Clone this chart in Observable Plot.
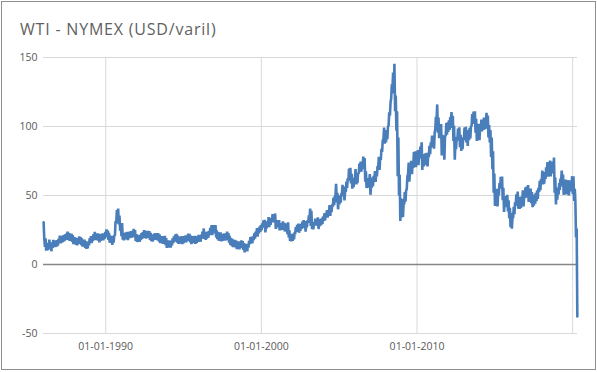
<!DOCTYPE html>
<html><head><meta charset="utf-8">
<script src="https://cdn.jsdelivr.net/npm/d3@7"></script>
<script src="https://cdn.jsdelivr.net/npm/@observablehq/plot@0.6"></script>
<style>
html,body{margin:0;padding:0;background:#fff;}
#chart{position:relative;width:597px;height:372px;overflow:hidden;font-family:"Open Sans",sans-serif;}
#frame{position:absolute;left:1px;top:1px;width:593px;height:367px;border:1px solid #8e8e8e;}
#title{position:absolute;left:20px;top:21px;font-size:16px;line-height:16px;color:#5f5f5f;letter-spacing:0.8px;white-space:nowrap;}
#plot{position:absolute;left:0;top:0;}
</style></head>
<body>
<div id="chart"><div id="frame"></div><div id="title">WTI - NYMEX (USD/varil)</div><div id="plot"></div></div>
<script>
// WTI prices: two readings per month (around the 5th and the 20th)
const firstYear = 1986;
const prices1980s = [
  30.5,18.8, 12.8,19.0, 10.0,15.4, 10.2,15.6, 12.8,18.0, 11.0,16.0, 9.6,13.8, 12.0,17.8, 12.5,17.4, 12.6,17.2, 12.9,17.7, 13.6,18.6,
  16.2,21.0, 15.3,20.2, 15.9,20.7, 16.2,21.2, 17.0,21.9, 17.6,22.4, 18.9,23.8, 17.8,22.9, 17.1,22.0, 17.3,22.4, 16.4,21.3, 14.8,19.8,
  14.7,19.6, 14.3,19.2, 13.8,18.7, 15.3,20.3, 15.0,19.8, 14.1,19.0, 13.0,18.0, 13.1,18.0, 12.0,17.0, 11.3,16.2, 11.7,16.6, 13.8,18.9,
  15.6,20.5, 15.5,20.4, 17.0,22.0, 18.6,23.6, 17.6,22.6, 17.6,22.5, 17.3,22.3, 16.1,21.0, 17.1,22.1, 17.6,22.6, 17.4,22.3, 18.6,23.7
];
const prices1990s = [
  20.3,25.4, 19.6,24.6, 17.9,22.9, 15.9,20.9, 15.7,20.7, 14.2,19.2, 15.9,21.0, 21.0,31.5, 30.0,39.5, 31.0,40.5, 29.0,35.5, 24.5,30.0,
  20.5,30.0, 17.9,23.0, 17.4,22.4, 18.3,23.3, 18.7,23.7, 17.7,22.7, 18.9,23.9, 19.2,24.2, 19.4,24.4, 20.7,25.8, 19.9,25.0, 17.0,22.0,
  16.3,21.3, 16.5,21.5, 16.4,21.4, 17.7,22.8, 18.5,23.5, 19.9,24.9, 19.3,24.3, 18.8,23.9, 19.4,24.4, 19.2,24.2, 17.8,22.9, 16.9,21.9,
  16.5,21.5, 17.6,22.6, 17.8,22.8, 17.8,22.8, 17.4,22.5, 16.6,21.6, 15.4,20.4, 15.5,20.5, 15.0,20.0, 15.7,20.7, 14.1,19.1, 12.0,17.0,
  12.5,17.5, 12.3,17.3, 12.2,17.2, 13.9,18.9, 15.4,20.4, 16.6,21.6, 17.2,22.2, 15.9,20.9, 15.0,20.0, 15.2,20.2, 15.6,20.6, 14.7,19.7,
  15.5,20.5, 16.1,21.1, 16.0,21.0, 17.4,22.4, 17.2,22.2, 16.0,21.0, 14.8,19.8, 15.5,20.5, 15.7,20.7, 14.9,19.9, 15.5,20.5, 16.5,21.5,
  16.4,21.4, 16.6,21.6, 18.8,23.9, 20.9,26.1, 18.6,23.7, 17.9,22.9, 18.8,23.8, 19.4,24.4, 21.4,26.5, 22.3,28.6, 21.2,26.2, 22.7,28.6,
  22.6,28.5, 19.6,24.7, 18.4,23.5, 17.2,22.2, 18.3,23.3, 16.7,21.8, 17.1,22.2, 17.4,22.5, 17.3,22.3, 18.8,23.8, 17.7,22.7, 15.8,20.8,
  14.2,19.2, 13.5,18.6, 12.6,17.6, 12.8,17.9, 12.4,17.4, 11.2,16.2, 11.7,16.7, 11.0,16.0, 12.5,17.5, 11.9,17.0, 10.5,15.5, 8.8,13.9,
  10.0,15.0, 9.5,14.5, 12.2,17.2, 14.8,19.8, 15.2,20.2, 15.4,20.4, 17.6,22.6, 18.8,23.8, 21.3,26.3, 20.2,25.2, 22.5,27.5, 23.6,28.6
];
const prices2000s = [
  24.7,29.8, 26.8,31.9, 27.2,32.4, 23.2,28.3, 26.2,31.3, 29.2,34.4, 27.1,32.3, 28.7,33.8, 31.3,36.5, 30.5,35.7, 31.8,37.0, 25.8,31.0,
  27.0,32.2, 27.0,32.2, 24.7,29.8, 24.9,30.0, 26.0,31.2, 25.0,30.2, 23.9,29.0, 24.8,29.9, 22.0,30.5, 19.6,24.7, 17.1,22.2, 16.8,21.9,
  17.2,22.3, 18.2,23.3, 22.0,27.1, 23.6,28.8, 24.5,29.6, 23.0,28.1, 24.4,29.5, 25.8,31.0, 27.1,32.2, 26.3,31.4, 23.8,28.9, 26.9,32.0,
  30.3,35.6, 33.2,40.5, 28.0,39.0, 25.6,30.8, 25.5,30.7, 28.1,33.2, 28.2,33.3, 29.0,34.2, 25.7,30.9, 27.8,32.9, 28.5,33.7, 29.5,34.8,
  31.6,37.0, 32.0,37.4, 34.0,39.5, 34.0,39.5, 37.5,43.0, 35.3,40.8, 38.0,43.6, 42.0,48.5, 43.0,49.5, 49.5,58.5, 45.0,52.0, 40.0,46.5,
  43.5,50.2, 44.8,51.5, 50.8,57.8, 49.5,56.5, 46.5,53.2, 52.8,60.0, 55.5,62.5, 61.0,69.5, 62.0,70.0, 58.8,65.8, 55.0,61.7, 56.0,62.8,
  62.0,69.2, 58.0,65.2, 59.0,66.3, 65.8,73.2, 67.0,74.6, 67.3,74.6, 70.8,78.2, 69.0,77.2, 60.0,67.6, 55.4,62.4, 55.6,62.6, 58.4,65.5,
  50.5,58.5, 55.6,63.0, 56.8,64.2, 60.3,67.7, 59.8,67.2, 63.8,71.3, 70.3,78.0, 68.6,76.2, 76.0,83.8, 81.5,90.2, 90.5,99.2, 87.5,96.0,
  88.5,97.5, 90.8,100.0, 100.8,110.2, 107.8,117.5, 120.5,130.5, 128.8,139.0, 124.0,145.5, 111.0,122.5, 97.0,111.0, 64.0,92.0, 50.0,65.0, 31.5,48.0,
  34.0,47.5, 34.5,44.0, 43.5,52.5, 45.5,53.8, 54.5,63.8, 65.5,73.8, 60.0,68.3, 67.0,75.2, 65.5,73.5, 70.0,81.5, 74.0,82.0, 70.5,78.5
];
const prices2010s = [
  74.0,83.0, 72.0,80.8, 77.0,85.5, 80.0,88.5, 68.5,80.0, 71.0,79.6, 72.0,80.6, 72.3,81.0, 71.0,79.5, 77.8,86.0, 80.0,88.5, 85.0,93.5,
  84.8,93.5, 84.0,96.0, 97.5,107.0, 105.0,116.0, 95.5,106.5, 91.5,101.5, 93.0,101.8, 79.0,94.0, 80.5,90.5, 76.0,93.5, 93.0,102.5, 94.0,103.0,
  96.0,104.5, 97.5,106.8, 101.5,110.5, 99.0,107.8, 89.5,100.5, 76.0,88.0, 83.5,92.5, 89.8,98.5, 90.0,99.5, 85.0,94.0, 82.3,90.8, 83.5,92.2,
  90.3,99.2, 90.8,99.8, 88.5,97.4, 86.0,96.5, 90.0,99.0, 91.3,100.3, 100.2,109.0, 102.3,110.8, 101.8,111.0, 95.5,105.5, 89.5,98.2, 93.2,102.0,
  90.0,99.0, 96.5,105.0, 96.5,105.0, 97.5,106.5, 97.8,106.5, 101.5,110.0, 98.5,108.0, 92.0,101.0, 88.5,97.5, 78.0,92.0, 69.0,82.0, 52.0,66.0,
  42.5,52.5, 46.5,54.8, 42.0,52.0, 50.0,59.0, 55.0,63.5, 55.8,63.8, 46.5,55.5, 38.0,48.5, 41.5,49.5, 42.0,50.5, 38.5,46.5, 33.5,41.0,
  27.0,37.5, 26.0,34.5, 33.5,41.8, 36.5,45.0, 42.8,50.8, 44.8,52.8, 40.5,48.8, 40.3,49.0, 41.0,49.3, 46.0,53.8, 42.0,50.0, 48.0,56.0,
  48.5,56.5, 49.5,57.5, 45.3,53.5, 47.0,55.0, 44.5,52.5, 41.5,49.0, 42.6,50.6, 44.0,52.0, 45.8,53.8, 47.6,55.6, 52.6,60.6, 53.8,61.9,
  59.5,68.0, 58.0,66.5, 58.5,67.0, 62.0,70.5, 65.8,74.3, 63.6,72.0, 66.7,75.3, 63.8,72.3, 66.0,74.5, 66.4,77.5, 52.0,63.0, 43.5,54.5,
  47.0,55.8, 50.8,59.0, 54.0,62.3, 59.7,68.0, 56.5,65.2, 50.5,58.8, 53.2,61.5, 50.7,59.0, 52.8,61.1, 50.0,58.0, 53.0,61.0, 55.8,64.0
];
const prices2020 = [51.0,64.0, 46.0,54.8, 46.0,19.5, 26.0,-37.63];

const yTicks = [-50, 0, 50, 100, 150];
const yGridValues = [-50, 50, 100, 150];
const xTickLabels = ["01-01-1990", "01-01-2000", "01-01-2010"];
const xGridLabels = ["01-01-1990", "01-01-2000", "01-01-2010", "01-01-2020"];
const firstDate = "1986-01-02";
const lastDate = "2020-04-24";

const parseDMY = d3.utcParse("%d-%m-%Y");
const readings = [...prices1980s, ...prices1990s, ...prices2000s, ...prices2010s, ...prices2020];
const data = readings.map((price, i) => {
  const year = firstYear + Math.floor(i / 24);
  const month = Math.floor((i % 24) / 2);
  const day = i % 2 === 0 ? 5 : 20;
  return {date: new Date(Date.UTC(year, month, day)), price};
});

const chart = Plot.plot({
  width: 597, height: 372,
  marginLeft: 43, marginRight: 20, marginTop: 57, marginBottom: 39,
  style: {fontFamily: '"Open Sans", sans-serif', fontSize: "10.5px", color: "#595959", background: "transparent", overflow: "visible"},
  x: {type: "utc", domain: [d3.utcParse("%Y-%m-%d")(firstDate), d3.utcParse("%Y-%m-%d")(lastDate)],
      ticks: xTickLabels.map(parseDMY), tickFormat: d3.utcFormat("%d-%m-%Y"), tickSize: 0, tickPadding: 9, label: null},
  y: {domain: [-50, 150], ticks: yTicks, tickFormat: d => String(d), tickSize: 0, tickPadding: 6, label: null},
  marks: [
    Plot.ruleY(yGridValues, {stroke: "#d9d9d9", strokeWidth: 1}),
    Plot.ruleX(xGridLabels.map(parseDMY), {stroke: "#d9d9d9", strokeWidth: 1}),
    Plot.ruleY([0], {stroke: "#868686", strokeWidth: 1.5}),
    Plot.line(data, {x: "date", y: "price", stroke: "#4a7ebb", strokeWidth: 2.6, strokeLinejoin: "miter"})
  ]
});
document.getElementById("plot").appendChild(chart);
</script>
</body></html>
